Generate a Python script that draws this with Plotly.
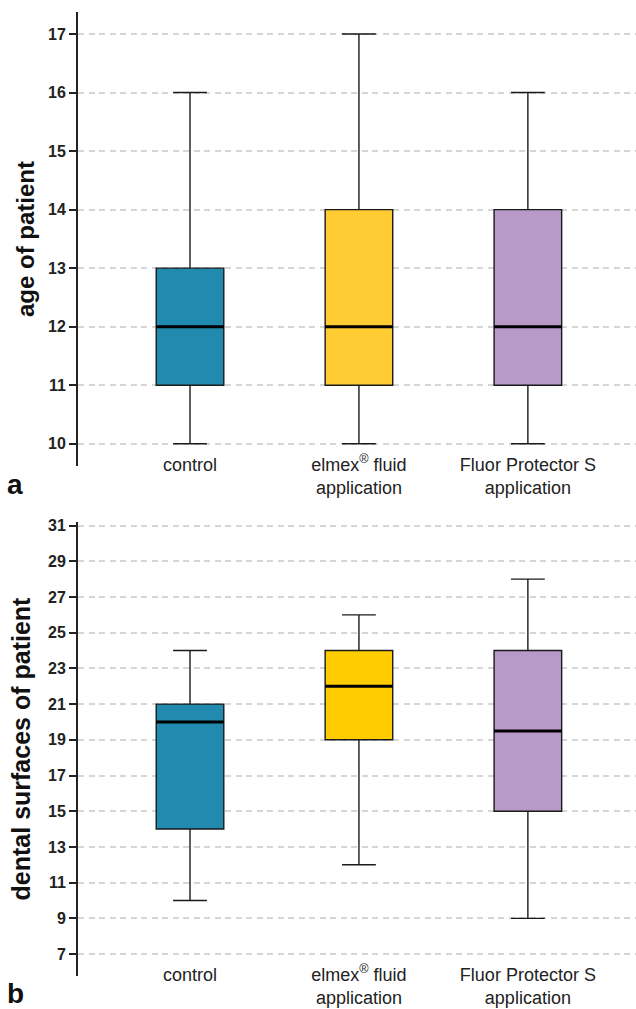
import plotly.graph_objects as go
from plotly.subplots import make_subplots

categories = ["control", "elmex<sup>®</sup> fluid<br>application", "Fluor Protector S<br>application"]

# panel a: age of patient
age_min = [10, 10, 10]
age_q1 = [11, 11, 11]
age_median = [12, 12, 12]
age_q3 = [13, 14, 14]
age_max = [16, 17, 16]

# panel b: dental surfaces of patient
surf_min = [10, 12, 9]
surf_q1 = [14, 19, 15]
surf_median = [20, 22, 19.5]
surf_q3 = [21, 24, 24]
surf_max = [24, 26, 28]

colors_a = ["#208BAE", "#FFCC33", "#B899C8"]
colors_b = ["#208BAE", "#FFCC00", "#B899C8"]

age_ticks = list(range(10, 18))
surf_ticks = list(range(7, 32, 2))

BOX_W = 0.4
FONT = "Liberation Sans, Arial, sans-serif"

fig = make_subplots(rows=2, cols=1, vertical_spacing=0.05)

def add_panel(row, mins, q1s, meds, q3s, maxs, colors):
    for i, cat in enumerate(categories):
        fig.add_trace(go.Box(
            x=[cat], q1=[q1s[i]], median=[meds[i]], q3=[q3s[i]],
            lowerfence=[mins[i]], upperfence=[maxs[i]],
            fillcolor=colors[i], line=dict(color="#1a1a1a", width=1.4),
            width=BOX_W, whiskerwidth=0.5, boxpoints=False,
            showlegend=False, hoverinfo="skip",
        ), row=row, col=1)
        xref = "x" if row == 1 else "x2"
        yref = "y" if row == 1 else "y2"
        fig.add_shape(type="line", xref=xref, yref=yref,
                      x0=i - BOX_W / 2, x1=i + BOX_W / 2, y0=meds[i], y1=meds[i],
                      line=dict(color="black", width=3), layer="above")

add_panel(1, age_min, age_q1, age_median, age_q3, age_max, colors_a)
add_panel(2, surf_min, surf_q1, surf_median, surf_q3, surf_max, colors_b)

H = 1009.0
xaxis_common = dict(
    type="category", range=[-0.663, 2.64], showline=False, showgrid=False,
    ticks="", tickfont=dict(family=FONT, size=18, color="#222"),
    ticklabelstandoff=-14, zeroline=False, automargin=False,
)
yaxis_common = dict(
    ticks="outside", ticklen=7, tickwidth=1.5, tickcolor="#222",
    showline=True, linecolor="#222", linewidth=2,
    showgrid=True, gridcolor="#d6d6d6", griddash="6px,4.5px", gridwidth=1.5,
    zeroline=False, automargin=False,
    tickfont=dict(family=FONT, size=16, color="#222", weight="bold"),
)
fig.update_layout(
    xaxis=dict(**xaxis_common, domain=[0, 1]),
    xaxis2=dict(**xaxis_common, domain=[0, 1]),
    yaxis=dict(**yaxis_common, domain=[1 - 466 / H, 1 - 12 / H], range=[9.62, 17.375],
               tickvals=age_ticks,
               title=dict(text="age of patient", standoff=7,
                          font=dict(family=FONT, size=24, color="#111", weight="bold"))),
    yaxis2=dict(**yaxis_common, domain=[1 - 976 / H, 1 - 522 / H], range=[5.77, 31.2],
                tickvals=surf_ticks,
                title=dict(text="dental surfaces of patient", standoff=10,
                           font=dict(family=FONT, size=25, color="#111", weight="bold"))),
    width=636, height=1009,
    margin=dict(l=78, r=0, t=0, b=0),
    plot_bgcolor="white", paper_bgcolor="white",
    annotations=[
        dict(text="a", x=15, y=484, xref="paper", yref="paper", showarrow=False,
             font=dict(family=FONT, size=28, color="#111", weight="bold")),
        dict(text="b", x=15, y=993, xref="paper", yref="paper", showarrow=False,
             font=dict(family=FONT, size=28, color="#111", weight="bold")),
    ],
)
# convert pixel positions of panel letters to paper coordinates
pw = 636 - 78
ph = H
for ann in fig.layout.annotations:
    px, py = ann.x, ann.y
    ann.x = (px - 78) / pw
    ann.y = 1 - py / ph
    ann.xanchor = "center"
    ann.yanchor = "middle"

fig.write_html("out.html", config={"displayModeBar": False},
               post_script="document.body.style.margin='0';document.body.style.overflow='hidden';")
